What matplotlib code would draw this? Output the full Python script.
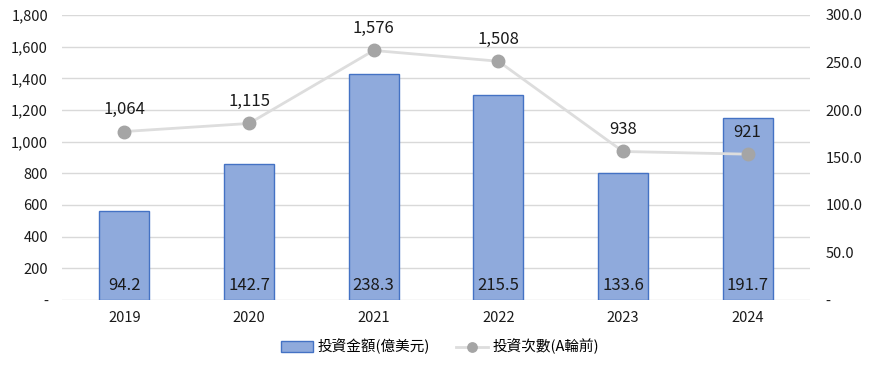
import matplotlib.pyplot as plt
import numpy as np

plt.rcParams['font.family'] = ['Noto Sans CJK TC', 'DejaVu Sans']

years = ['2019', '2020', '2021', '2022', '2023', '2024']
amount = [94.2, 142.7, 238.3, 215.5, 133.6, 191.7]      # 投資金額(億美元), right axis
deals = [1064, 1115, 1576, 1508, 938, 921]              # 投資次數(A輪前), left axis

fig = plt.figure(figsize=(8.72, 3.65), dpi=100)
ax = fig.add_axes([62/872, 1 - 300/365, 748/872, 285/365])
ax2 = ax.twinx()

x = np.arange(len(years))

# bars on the right axis
ax2.bar(x, amount, width=0.4, color='#8FAADC', edgecolor='#4472C4', linewidth=1,
        label='投資金額(億美元)', zorder=2)
for xi, v in zip(x, amount):
    ax2.text(xi, 6, f'{v:.1f}', ha='center', va='bottom', fontsize=12, color='#1a1a1a')

# line on the left axis, drawn above the bars
ax3 = ax.twinx()
ax3.set_ylim(0, 1800)
ax3.axis('off')
ax3.plot(x, deals, color='#DDDDDD', linewidth=2, marker='o', markersize=9,
         markerfacecolor='#A5A5A5', markeredgecolor='#A5A5A5', label='投資次數(A輪前)', zorder=3)
for xi, v in zip(x, deals):
    ax3.text(xi, v + 85, f'{v:,}', ha='center', va='bottom', fontsize=12, color='#1a1a1a')

ax.set_ylim(0, 1800)
ax.set_yticks(np.arange(0, 1801, 200))
ax.set_yticklabels(['-'] + [f'{v:,}' for v in range(200, 1801, 200)])
ax2.set_ylim(0, 300)
ax2.set_yticks(np.arange(0, 301, 50))
ax2.set_yticklabels(['-'] + [f'{v:.1f}' for v in range(50, 301, 50)])
ax.set_xlim(-0.5, 5.5)
ax.set_xticks(x)
ax.set_xticklabels(years)

ax.grid(axis='y', color='#D9D9D9', linewidth=1)
ax.set_axisbelow(True)
for a in (ax, ax2):
    for s in a.spines.values():
        s.set_visible(False)
    a.tick_params(length=0, labelsize=10.5, colors='#1a1a1a')
ax.tick_params(axis='y', pad=10)
ax2.tick_params(axis='y', pad=11)
ax.tick_params(axis='x', pad=8)

h1, l1 = ax2.get_legend_handles_labels()
h2, l2 = ax3.get_legend_handles_labels()
fig.legend(h1 + h2, l1 + l2, loc='center', bbox_to_anchor=(0.505, 0.05), ncol=2,
           frameon=False, fontsize=10.5, handlelength=2.2, handletextpad=0.3,
           columnspacing=1.8, markerscale=0.75)

fig.savefig('out.png', dpi=100)
